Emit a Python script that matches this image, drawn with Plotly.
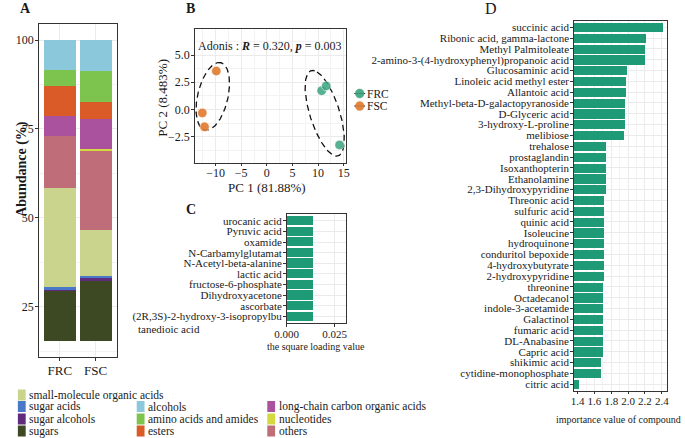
import numpy as np
import plotly.graph_objects as go

W, H = 685, 438
FONT = "Liberation Serif, Times New Roman, serif"
TXT = "#1a1a1a"
GRID = "#EBEBEB"
TEAL = "#1E9B76"

# ---------------- Panel A data ----------------
groups = ["FRC", "FSC"]
classes = ["sugars", "sugar alcohols", "sugar acids", "small-molecule organic acids",
           "others", "nucleotides", "long-chain carbon organic acids", "esters",
           "amino acids and amides", "alcohols"]
frc_abundance = [14.1, 0.1, 0.8, 28.0, 14.6, 0.0, 5.5, 8.6, 4.4, 8.4]
fsc_abundance = [16.8, 0.9, 0.5, 12.9, 22.4, 0.4, 8.3, 4.9, 8.8, 8.6]
abundance_floor = 15.5
class_colors = {
    "sugars": "#3D4923", "sugar alcohols": "#5F2B7C", "sugar acids": "#4A78C8",
    "small-molecule organic acids": "#CAD48C", "others": "#BF6E79", "nucleotides": "#D4D93F",
    "long-chain carbon organic acids": "#AB529E", "esters": "#DA5B27",
    "amino acids and amides": "#7DC44E", "alcohols": "#8CC8DC",
}
a_yticks = [25, 50, 75, 100]

# ---------------- Panel B data ----------------
frc_pc1 = [10.7, 11.6, 14.2]
frc_pc2 = [1.72, 2.16, -3.26]
fsc_pc1 = [-9.87, -12.6, -12.16]
fsc_pc2 = [3.53, -0.32, -1.6]
# ellipse: centre and two conjugate semi-diameters (PC units)
fsc_ellipse = dict(c=(-10.55, 1.2), u=(0.95, 3.1), v=(3.13, 0.3))
frc_ellipse = dict(c=(11.3, -0.35), u=(-1.5, 3.8), v=(3.52, -1.0))
b_xticks = [-10, -5, 0, 5, 10, 15]
b_yticks = [-2.5, 0.0, 2.5, 5.0]

# ---------------- Panel C data ----------------
c_compounds = ["urocanic acid", "Pyruvic acid", "oxamide", "N-Carbamylglutamat",
               "N-Acetyl-beta-alanine", "lactic acid", "fructose-6-phosphate",
               "Dihydroxyacetone", "ascorbate", "(2R,3S)-2-hydroxy-3-isopropylbu"]
c_loading = [0.0136] * 10
c_xticks = [0.0, 0.025]

# ---------------- Panel D data ----------------
d_compounds = ["succinic acid", "Ribonic acid, gamma-lactone", "Methyl Palmitoleate",
               "2-amino-3-(4-hydroxyphenyl)propanoic acid", "Glucosaminic acid",
               "Linoleic acid methyl ester", "Allantoic acid", "Methyl-beta-D-galactopyranoside",
               "D-Glyceric acid", "3-hydroxy-L-proline", "melibiose", "trehalose",
               "prostaglandin", "Isoxanthopterin", "Ethanolamine", "2,3-Dihydroxypyridine",
               "Threonic acid", "sulfuric acid", "quinic acid", "Isoleucine", "hydroquinone",
               "conduritol bepoxide", "4-hydroxybutyrate", "2-hydroxypyridine", "threonine",
               "Octadecanol", "indole-3-acetamide", "Galactinol", "fumaric acid",
               "DL-Anabasine", "Capric acid", "shikimic acid", "cytidine-monophosphate",
               "citric acid"]
d_importance = [2.416, 2.214, 2.203, 2.199, 1.981, 1.970, 1.970, 1.963, 1.963, 1.963,
                1.943, 1.730, 1.730, 1.730, 1.730, 1.730, 1.714, 1.714, 1.714, 1.714,
                1.714, 1.714, 1.714, 1.714, 1.699, 1.699, 1.699, 1.699, 1.699, 1.699,
                1.699, 1.672, 1.672, 1.412]
d_xticks = [1.4, 1.6, 1.8, 2.0, 2.2, 2.4]


def px(x):
    return x / W


def py(y):
    return 1 - y / H


fig = go.Figure()

# ---- A: stacked bars ----
cum = np.array([abundance_floor, abundance_floor], dtype=float)
for i, cl in enumerate(classes):
    vals = np.array([frc_abundance[i], fsc_abundance[i]])
    fig.add_trace(go.Bar(x=groups, y=vals, base=cum.copy(), width=0.89,
                         marker=dict(color=class_colors[cl], line=dict(width=0)),
                         xaxis="x", yaxis="y", showlegend=False, name=cl))
    cum = cum + vals

# ---- B: PCA scatter + ellipses ----
t = np.linspace(0, 2 * np.pi, 200)
for e in (fsc_ellipse, frc_ellipse):
    ex = e["c"][0] + e["u"][0] * np.cos(t) + e["v"][0] * np.sin(t)
    ey = e["c"][1] + e["u"][1] * np.cos(t) + e["v"][1] * np.sin(t)
    fig.add_trace(go.Scatter(x=ex, y=ey, mode="lines", xaxis="x2", yaxis="y2",
                             line=dict(color="#111", width=1.3, dash="6px,4px"),
                             showlegend=False, hoverinfo="skip"))
FRC_COL, FSC_COL = "#3AA37E", "#E07A2E"
fig.add_trace(go.Scatter(x=frc_pc1, y=frc_pc2, mode="markers", xaxis="x2", yaxis="y2",
                         marker=dict(size=9.5, color=FRC_COL, opacity=0.85,
                                     line=dict(color="white", width=0.6)),
                         showlegend=False, name="FRC"))
fig.add_trace(go.Scatter(x=fsc_pc1, y=fsc_pc2, mode="markers", xaxis="x2", yaxis="y2",
                         marker=dict(size=9.5, color=FSC_COL, opacity=0.9,
                                     line=dict(color="white", width=0.6)),
                         showlegend=False, name="FSC"))

# ---- C ----
fig.add_trace(go.Bar(y=c_compounds, x=c_loading, orientation="h", width=0.85,
                     marker=dict(color=TEAL, line=dict(width=0)),
                     xaxis="x3", yaxis="y3", showlegend=False))

# ---- D ----
fig.add_trace(go.Bar(y=d_compounds, x=d_importance, orientation="h", width=0.85,
                     marker=dict(color=TEAL, line=dict(width=0)),
                     xaxis="x4", yaxis="y4", showlegend=False))

common_axis = dict(showline=True, linecolor="#333", linewidth=1, mirror=True,
                   ticks="outside", ticklen=2.5, tickcolor="#333", gridcolor=GRID,
                   gridwidth=0.8, zeroline=False)


def ax(**kw):
    d = dict(common_axis)
    d.update(kw)
    return d


def mgrid(dt):
    return dict(showgrid=True, dtick=dt, tick0=0, gridcolor="#F3F3F3", gridwidth=0.5, ticks="")


layout = dict(
    width=W, height=H, margin=dict(l=0, r=0, t=0, b=0),
    paper_bgcolor="white", plot_bgcolor="white",
    font=dict(family=FONT, color=TXT, size=12),
    barmode="overlay", bargap=0,
    # A
    xaxis=ax(domain=[px(27.3), px(107.3)], range=[-0.59, 1.6], anchor="y",
             tickfont=dict(size=13, family=FONT, color=TXT), ticklabelstandoff=-1),
    yaxis=ax(domain=[py(357), py(24)], range=[10.9, 104.5], anchor="x",
             tickvals=a_yticks, tickfont=dict(size=12, family=FONT, color=TXT),
             ticklabelstandoff=-1, minor=mgrid(12.5)),
    # B
    xaxis2=ax(domain=[px(186.7), px(341.7)], range=[-14.1, 15.5], anchor="y2",
              tickvals=b_xticks, tickfont=dict(size=12, family=FONT, color=TXT),
              ticklabelstandoff=-4, minor=mgrid(2.5)),
    yaxis2=ax(domain=[py(162.7), py(29.3)], range=[-4.89, 7.36], anchor="x2",
              tickvals=b_yticks, tickformat=".1f", ticklabelstandoff=-1,
              tickfont=dict(size=12, family=FONT, color=TXT), minor=mgrid(1.25)),
    # C
    xaxis3=ax(domain=[px(280.7), px(341.7)], range=[0, 0.031], anchor="y3",
              tickvals=c_xticks, tickformat=".3f", ticklabelstandoff=-2,
              tickfont=dict(size=11, family=FONT, color=TXT), minor=mgrid(0.0125)),
    yaxis3=ax(domain=[py(323), py(214.3)], range=[9.6, -0.6], anchor="x3",
              type="category", tickmode="array", tickvals=c_compounds, ticktext=c_compounds,
              tickfont=dict(size=11, family=FONT, color=TXT), ticklabelstandoff=-1,
              showgrid=True),
    # D
    xaxis4=ax(domain=[px(574.3), px(669.3)], range=[1.353, 2.458], anchor="y4",
              tickvals=d_xticks, tickformat=".1f", ticklabelstandoff=-2,
              tickfont=dict(size=11, family=FONT, color=TXT), minor=mgrid(0.1)),
    yaxis4=ax(domain=[py(390.7), py(20.7)], range=[33.6, -0.6], anchor="x4",
              type="category", tickmode="array", tickvals=d_compounds, ticktext=d_compounds,
              tickfont=dict(size=11, family=FONT, color=TXT), ticklabelstandoff=-1,
              showgrid=True),
)
fig.update_layout(**layout)

ann = []
shapes = []


def text(x, y, s, size=12, xanchor="left", yanchor="middle", bold=False, angle=0):
    ann.append(dict(x=px(x), y=py(y), xref="paper", yref="paper",
                    text=f"<b>{s}</b>" if bold else s,
                    showarrow=False, xanchor=xanchor, yanchor=yanchor, textangle=angle,
                    borderpad=0,
                    font=dict(family=FONT, size=size, color=TXT)))


# panel letters
text(14, 9, "A", 14, "center", bold=True)
text(183, 9, "B", 14, "center", bold=True)
text(183, 209, "C", 14, "center", bold=True)
text(490, 9, "D", 16, "center")

# axis titles
text(10, 169, "Abundance (%)", 14, "center", bold=True, angle=-90)
text(261, 187, "PC 1 (81.88%)", 13, "center")
text(154, 98, "PC 2 (8.483%)", 13, "center", angle=-90)
text(311, 346, "the square loading value", 10, "center")
text(620, 419, "importance value of compound", 10, "center")
text(128, 329, "tanedioic acid", 11, "left")
text(264, 46, "Adonis : <b><i>R</i></b> = 0.320, <b><i>p</i></b> = 0.003", 12, "center")

# B legend
for yy, lab, col in [(93.5, "FRC", FRC_COL), (106, "FSC", FSC_COL)]:
    shapes.append(dict(type="line", xref="paper", yref="paper", x0=px(350), x1=px(361),
                       y0=py(yy), y1=py(yy), line=dict(color="#111", width=1)))
    shapes.append(dict(type="circle", xref="paper", yref="paper", x0=px(351), x1=px(360),
                       y0=py(yy + 4.5), y1=py(yy - 4.5), fillcolor=col,
                       line=dict(color=col, width=0.5), opacity=0.9))
    text(361.5, yy, lab, 11.5)

# A legend
legend_layout = [
    ("small-molecule organic acids", 6, 395), ("sugar acids", 6, 406.5),
    ("sugar alcohols", 6, 419), ("sugars", 6, 431),
    ("alcohols", 127.5, 406.5), ("amino acids and amides", 127.5, 419), ("esters", 127.5, 431),
    ("long-chain carbon organic acids", 261, 406.5), ("nucleotides", 261, 419),
    ("others", 261, 431),
]
for lab, x0, yc in legend_layout:
    shapes.append(dict(type="rect", xref="paper", yref="paper", x0=px(x0), x1=px(x0 + 8),
                       y0=py(yc + 5.5), y1=py(yc - 5.5), fillcolor=class_colors[lab],
                       line=dict(width=0)))
    text(x0 + 10.5, yc, lab, 11.5)

fig.update_layout(annotations=ann, shapes=shapes)
fig.write_html("out.html", config={"displayModeBar": False},
               post_script="document.body.style.margin='0px';document.body.style.overflow='hidden';")
